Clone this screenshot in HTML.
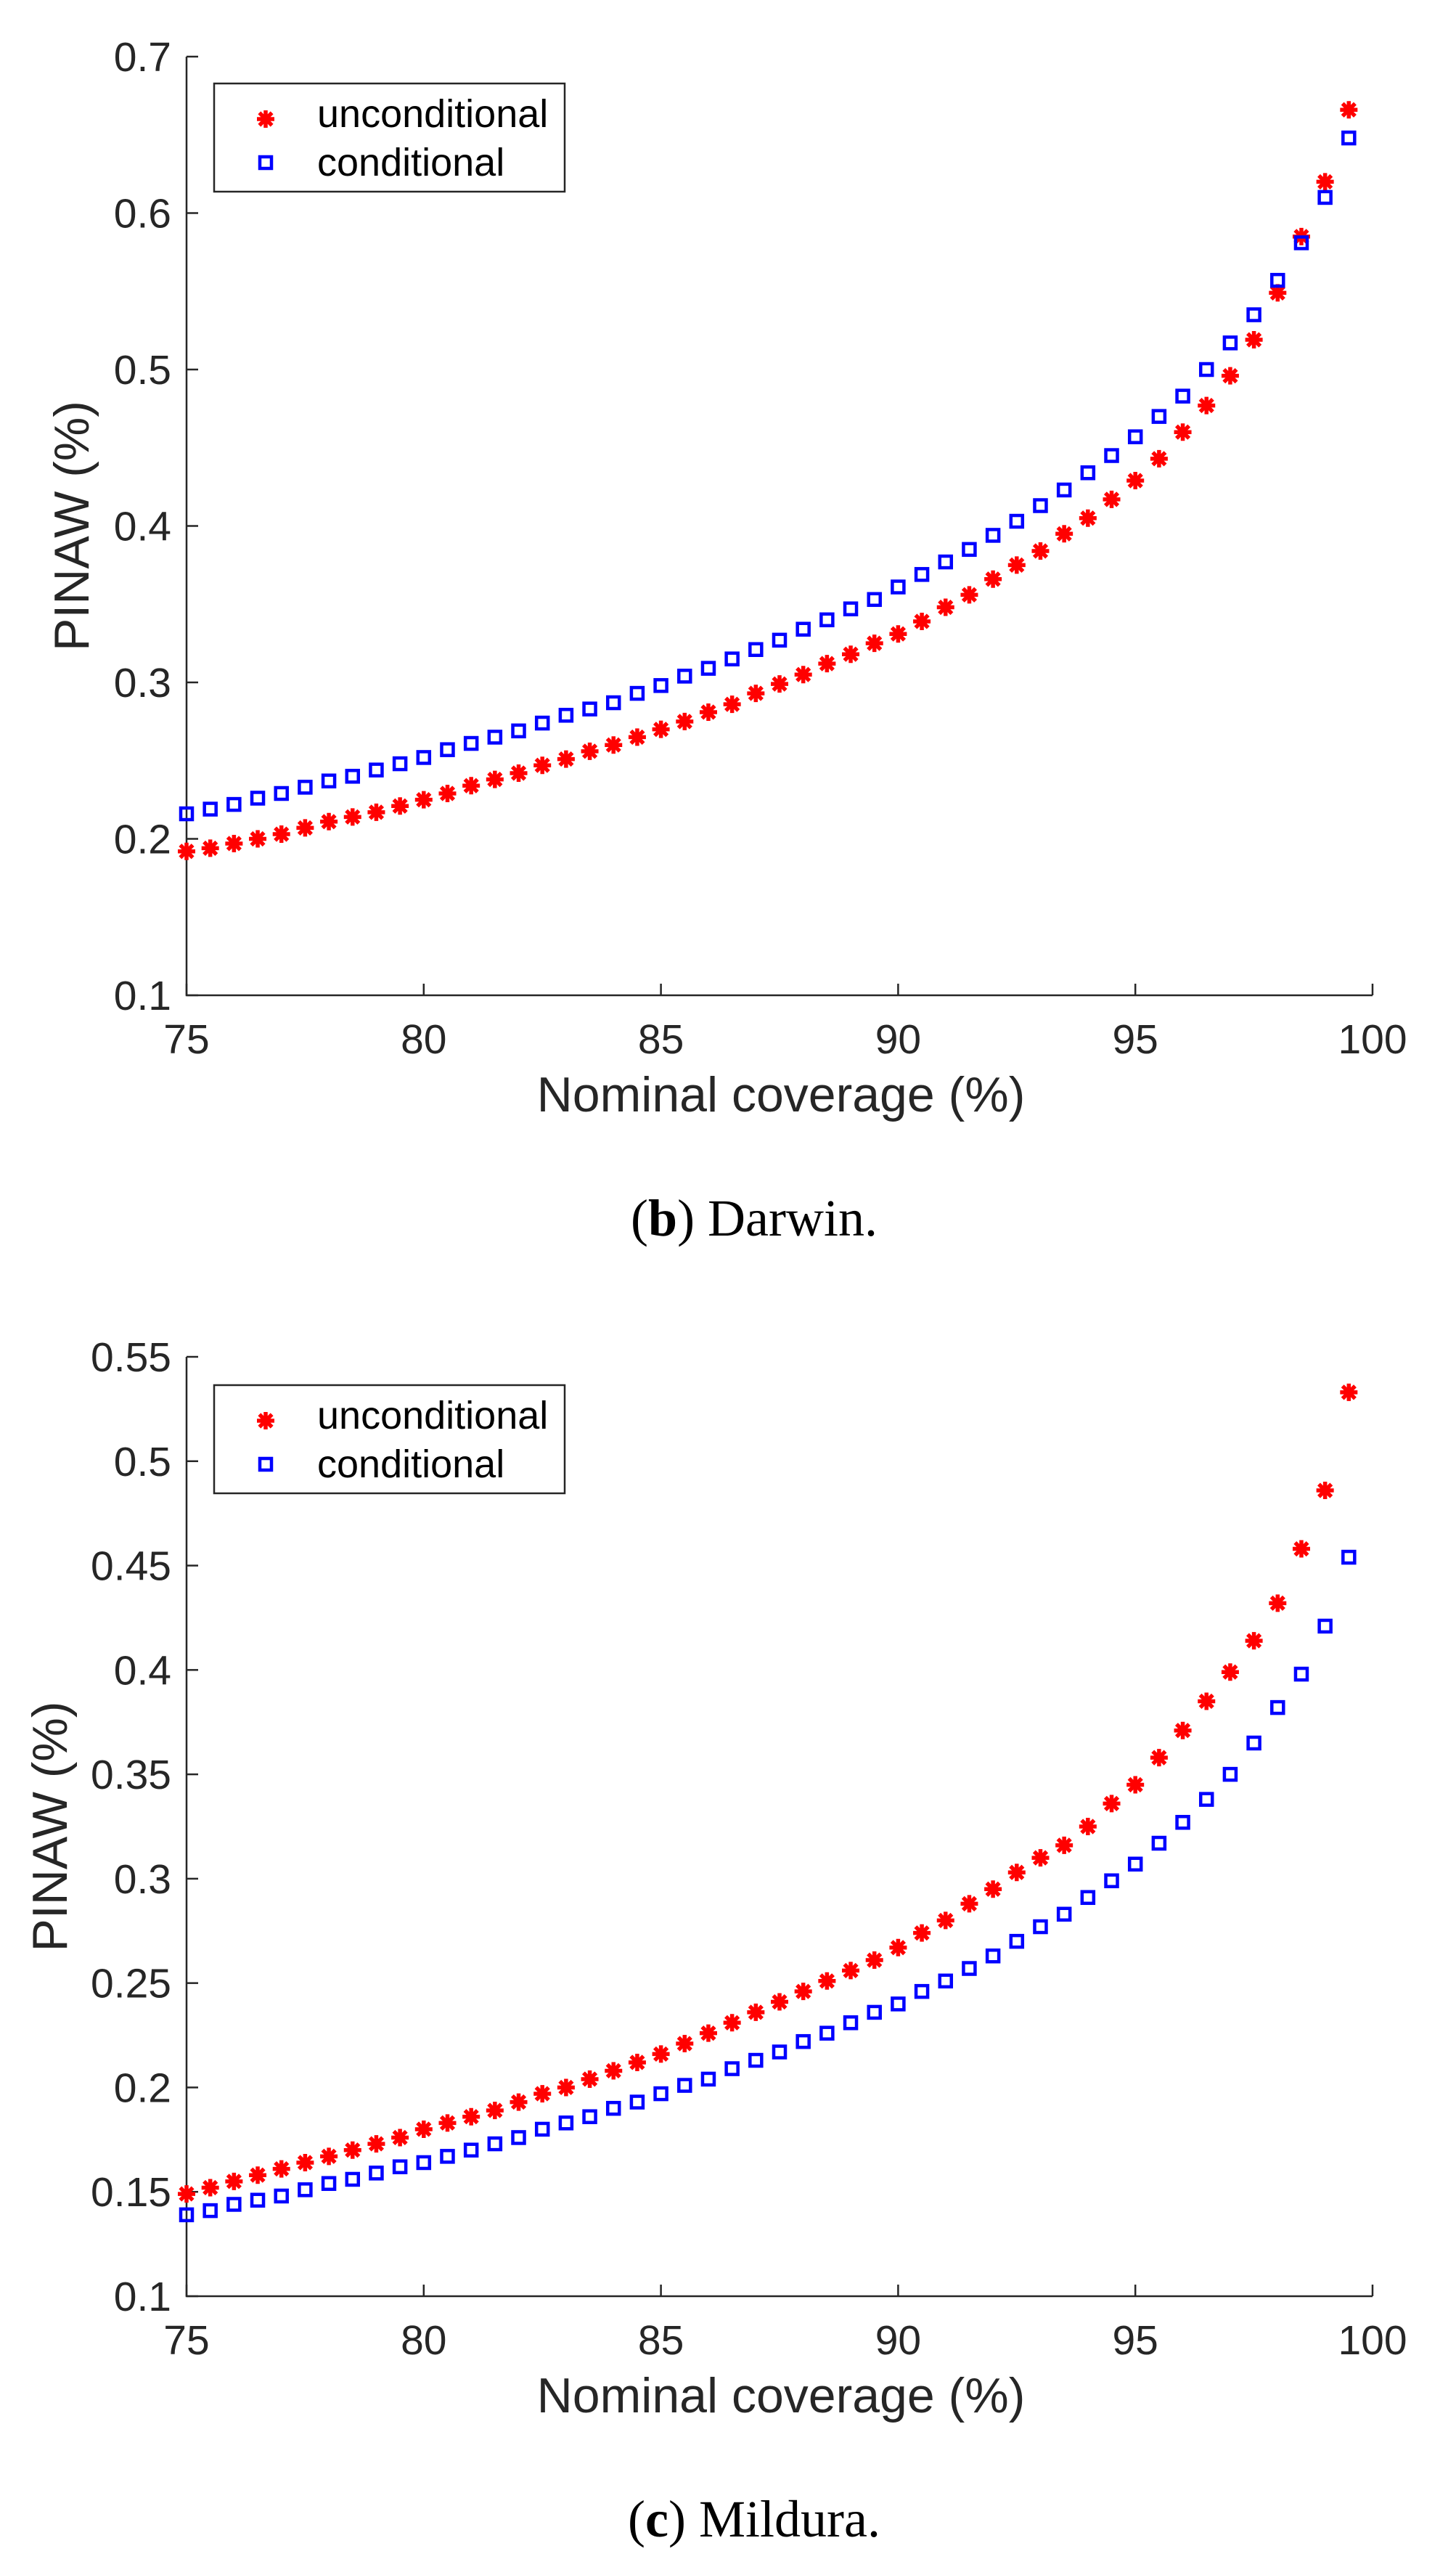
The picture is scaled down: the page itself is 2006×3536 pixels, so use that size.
<!DOCTYPE html>
<html><head><meta charset="utf-8"><style>
html,body{margin:0;padding:0;background:#fff;}
svg{display:block;}
text{font-family:"Liberation Sans",sans-serif;}
</style></head><body>
<svg id="svg" width="2006" height="3536" viewBox="0 0 2006 3536"></svg>
<script>
const xs = [];
for (let i = 0; i < 50; i++) xs.push(75 + i * 0.5);
const xTicks = [75, 80, 85, 90, 95, 100];
const darwinYTicks = [0.1, 0.2, 0.3, 0.4, 0.5, 0.6, 0.7];
const darwinYLabels = ["0.1","0.2","0.3","0.4","0.5","0.6","0.7"];
const darwinUncond = [0.192,0.194,0.197,0.200,0.203,0.207,0.211,0.214,0.217,0.221,0.225,0.229,0.234,0.238,0.242,0.247,0.251,0.256,0.260,0.265,0.270,0.275,0.281,0.286,0.293,0.299,0.305,0.312,0.318,0.325,0.331,0.339,0.348,0.356,0.366,0.375,0.384,0.395,0.405,0.417,0.429,0.443,0.460,0.477,0.496,0.519,0.549,0.585,0.620,0.666];
const darwinCond = [0.216,0.219,0.222,0.226,0.229,0.233,0.237,0.240,0.244,0.248,0.252,0.257,0.261,0.265,0.269,0.274,0.279,0.283,0.287,0.293,0.298,0.304,0.309,0.315,0.321,0.327,0.334,0.340,0.347,0.353,0.361,0.369,0.377,0.385,0.394,0.403,0.413,0.423,0.434,0.445,0.457,0.470,0.483,0.500,0.517,0.535,0.557,0.581,0.610,0.648];
const milduraYTicks = [0.1,0.15,0.2,0.25,0.3,0.35,0.4,0.45,0.5,0.55];
const milduraYLabels = ["0.1","0.15","0.2","0.25","0.3","0.35","0.4","0.45","0.5","0.55"];
const milduraUncond = [0.149,0.152,0.155,0.158,0.161,0.164,0.167,0.170,0.173,0.176,0.180,0.183,0.186,0.189,0.193,0.197,0.200,0.204,0.208,0.212,0.216,0.221,0.226,0.231,0.236,0.241,0.246,0.251,0.256,0.261,0.267,0.274,0.280,0.288,0.295,0.303,0.310,0.316,0.325,0.336,0.345,0.358,0.371,0.385,0.399,0.414,0.432,0.458,0.486,0.533];
const milduraCond = [0.139,0.141,0.144,0.146,0.148,0.151,0.154,0.156,0.159,0.162,0.164,0.167,0.170,0.173,0.176,0.180,0.183,0.186,0.190,0.193,0.197,0.201,0.204,0.209,0.213,0.217,0.222,0.226,0.231,0.236,0.240,0.246,0.251,0.257,0.263,0.270,0.277,0.283,0.291,0.299,0.307,0.317,0.327,0.338,0.350,0.365,0.382,0.398,0.421,0.454];

const NS = "http://www.w3.org/2000/svg";
const svg = document.getElementById('svg');
function mk(tag, attrs, parent) {
  const e = document.createElementNS(NS, tag);
  for (const k in attrs) e.setAttribute(k, attrs[k]);
  (parent || svg).appendChild(e);
  return e;
}
function drawStar(g, cx, cy) {
  const s = 12;
  return mk('path', {d:`M${cx-s},${cy}H${cx+s}M${cx},${cy-s}V${cy+s}M${cx-s*0.72},${cy-s*0.72}L${cx+s*0.72},${cy+s*0.72}M${cx-s*0.72},${cy+s*0.72}L${cx+s*0.72},${cy-s*0.72}`, stroke:'#ff0000', 'stroke-width':5.5, fill:'none'}, g);
}
function drawSq(g, cx, cy) {
  return mk('rect', {x:cx-8, y:cy-8, width:16, height:16, fill:'none', stroke:'#0000ff', 'stroke-width':4.5}, g);
}
function chart(name, top, bottom, yMin, yMax, yTicks, yLabels, unc, cond, caption, capLetter, legTop, capY) {
  const L = 257, R = 1891;
  const xS = v => L + (v - 75) / 25 * (R - L);
  const yS = v => bottom - (v - yMin) / (yMax - yMin) * (bottom - top);
  const g = mk('g', {});
  
  
  const ax = mk('path', {d:`M${L},${top}V${bottom}H${R}`, stroke:'#262626', 'stroke-width':2.5, fill:'none'}, g);
  
  
  xTicks.forEach(t => {
    const x = xS(t);
    mk('line', {x1:x, y1:bottom, x2:x, y2:bottom-16, stroke:'#262626', 'stroke-width':2.5}, g);
    const tx = mk('text', {x:x, y:bottom+80, 'text-anchor':'middle', 'font-size':57, fill:'#262626'}, g);
    tx.textContent = t;
    
    
  });
  yTicks.forEach((t, i) => {
    const y = yS(t);
    mk('line', {x1:L, y1:y, x2:L+16, y2:y, stroke:'#262626', 'stroke-width':2.5}, g);
    const tx = mk('text', {x:L-21, y:y+20, 'text-anchor':'end', 'font-size':57, fill:'#262626'}, g);
    tx.textContent = yLabels[i];
    
    
  });
  const xl = mk('text', {x:1076, y:bottom+160, 'text-anchor':'middle', 'font-size':68, fill:'#262626'}, g);
  xl.textContent = 'Nominal coverage (%)';
  
  
  const ycx = name === 'darwin' ? 122 : 92;
  const ycy = (top + bottom) / 2;
  const yl = mk('text', {x:ycx, y:ycy, 'text-anchor':'middle', 'font-size':68, fill:'#262626', transform:`rotate(-90 ${ycx} ${ycy})`}, g);
  yl.textContent = 'PINAW (%)';
  
  
  const gu = mk('g', {}, g);
  
  
  unc.forEach((v, i) => {
    const m = drawStar(gu, xS(xs[i]), yS(v));
    
    
  });
  const gc = mk('g', {}, g);
  
  
  cond.forEach((v, i) => {
    const m = drawSq(gc, xS(xs[i]), yS(v));
    
    
  });
  const lg = mk('g', {}, g);
  
  
  mk('rect', {x:295, y:legTop, width:483, height:149, fill:'#fff', stroke:'#262626', 'stroke-width':2.5}, lg);
  const s1 = drawStar(lg, 366, legTop + 49);
  
  
  const t1 = mk('text', {x:437, y:legTop + 60, 'font-size':54, fill:'#000'}, lg);
  t1.textContent = 'unconditional';
  
  
  const s2 = drawSq(lg, 366, legTop + 109);
  
  
  const t2 = mk('text', {x:437, y:legTop + 127, 'font-size':54, fill:'#000'}, lg);
  t2.textContent = 'conditional';
  
  
  const cp = mk('text', {x:1039, y:capY, 'text-anchor':'middle', 'font-size':72, fill:'#000', style:'font-family:"Liberation Serif",serif'}, svg);
  cp.innerHTML = '(<tspan font-weight="bold">' + capLetter + '</tspan>) ' + caption;
  
  
}
chart('darwin', 78, 1371, 0.1, 0.7, darwinYTicks, darwinYLabels, darwinUncond, darwinCond, 'Darwin.', 'b', 115, 1702);
chart('mildura', 1869, 3163, 0.1, 0.55, milduraYTicks, milduraYLabels, milduraUncond, milduraCond, 'Mildura.', 'c', 1908, 3494);
</script>
</body></html>
